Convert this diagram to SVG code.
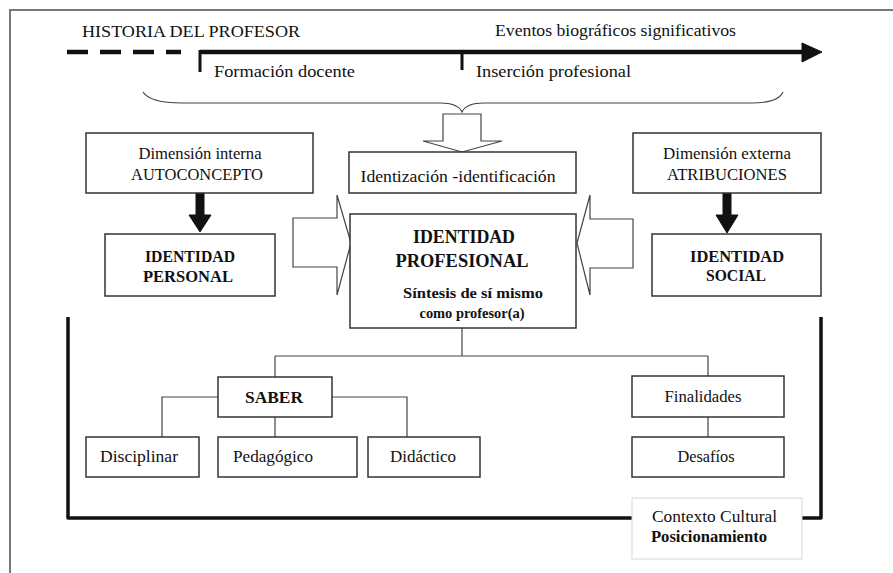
<svg xmlns="http://www.w3.org/2000/svg" width="893" height="573" viewBox="0 0 893 573" font-family="'Liberation Serif', 'Times New Roman', serif">
  <defs>
    <style>
      text { font-family: "Liberation Serif", "Times New Roman", serif; fill: #111111; }
      .t16 { font-size: 16px; }
      .b16 { font-size: 16px; font-weight: bold; }
      .b18 { font-size: 18px; font-weight: bold; }
      .b15 { font-size: 15px; font-weight: bold; }
      .mid { text-anchor: middle; }
      .box { fill: #ffffff; stroke: #333333; stroke-width: 1.5; }
      .soft { fill: #ffffff; stroke: #d8d8d8; stroke-width: 1; }
      .thin { fill: none; stroke: #444444; stroke-width: 1.2; }
      .hollow { fill: #ffffff; stroke: #444444; stroke-width: 1.2; stroke-linejoin: miter; }
      .solid { fill: #111111; stroke: #111111; stroke-width: 1; }
      .heavy { fill: none; stroke: #111111; stroke-width: 3.5; stroke-linejoin: round; }
    </style>
  </defs>

  <rect x="0" y="0" width="893" height="573" fill="#ffffff"/>

  <!-- page frame -->
  <g id="frame">
    <path d="M10,573 L10,10 L893,10" fill="none" stroke="#777777" stroke-width="2"/>
  </g>

  <!-- timeline -->
  <g id="timeline">
    <text class="t16" x="82" y="37" textLength="218" lengthAdjust="spacingAndGlyphs">HISTORIA DEL PROFESOR</text>
    <text class="t16" x="495" y="36" textLength="241" lengthAdjust="spacingAndGlyphs">Eventos biográficos significativos</text>
    <path d="M67,52 L181,52" stroke="#111111" stroke-width="4.5" stroke-dasharray="21,12" fill="none"/>
    <path d="M200,52 L806,52" stroke="#111111" stroke-width="4.5" fill="none"/>
    <path d="M802,43 L822,52 L802,62 Z" class="solid"/>
    <path d="M200,50 L200,72 M462,50 L462,70" stroke="#111111" stroke-width="3" fill="none"/>
    <text class="t16" x="214" y="77" textLength="141" lengthAdjust="spacingAndGlyphs">Formación docente</text>
    <text class="t16" x="476" y="77" textLength="155" lengthAdjust="spacingAndGlyphs">Inserción profesional</text>
  </g>

  <!-- connectors -->
  <g id="connectors">
    <!-- brace gathering the timeline -->
    <path class="thin" d="M143,92 Q150,103 182,103 L440,103 Q458,103 462,112 Q466,103 484,103 L752,103 Q778,103 783,92"/>
    <!-- hollow arrow down to identización -->
    <path class="hollow" d="M443,114 L481,114 L481,141 L502,141 L462,152 L423,141 L443,141 Z"/>
    <!-- hollow arrow from the left -->
    <path class="hollow" d="M293,218 L337,218 L337,195 L351,243 L337,295 L337,267 L293,267 Z"/>
    <!-- hollow arrow from the right -->
    <path class="hollow" d="M633,219 L590,219 L590,195 L577,243 L590,295 L590,268 L633,268 Z"/>
    <!-- solid arrows -->
    <path class="solid" d="M196,193 L204,193 L204,215 L211,215 L200,232 L189,215 L196,215 Z"/>
    <path class="solid" d="M723,193 L731,193 L731,215 L738,215 L727,233 L716,215 L723,215 Z"/>
    <!-- context bracket -->
    <path class="heavy" d="M68,317 L68,518 L821,518 L821,317"/>
    <!-- tree -->
    <path class="thin" d="M462,328 L462,356 M275,356 L708,356 M275,356 L275,377 M708,356 L708,377"/>
    <path class="thin" d="M218,397 L162,397 L162,437 M332,397 L407,397 L407,437 M275,417 L275,437"/>
    <path class="thin" d="M708,417 L708,437"/>
  </g>

  <g id="dim-interna">
    <rect class="box" x="86" y="133" width="227" height="60"/>
    <text class="t16 mid" x="200" y="159" textLength="123" lengthAdjust="spacingAndGlyphs">Dimensión interna</text>
    <text class="t16 mid" x="197" y="180" textLength="132" lengthAdjust="spacingAndGlyphs">AUTOCONCEPTO</text>
  </g>

  <g id="identizacion">
    <rect class="box" x="349" y="152" width="227" height="41"/>
    <text class="t16 mid" x="458" y="182" textLength="195" lengthAdjust="spacingAndGlyphs">Identización -identificación</text>
  </g>

  <g id="dim-externa">
    <rect class="box" x="633" y="133" width="188" height="60"/>
    <text class="t16 mid" x="727" y="159" textLength="128" lengthAdjust="spacingAndGlyphs">Dimensión externa</text>
    <text class="t16 mid" x="727" y="180" textLength="120" lengthAdjust="spacingAndGlyphs">ATRIBUCIONES</text>
  </g>

  <g id="identidad-personal">
    <rect class="box" x="105" y="234" width="170" height="62"/>
    <text class="b16 mid" x="190" y="262" textLength="90" lengthAdjust="spacingAndGlyphs">IDENTIDAD</text>
    <text class="b16 mid" x="188" y="282" textLength="90" lengthAdjust="spacingAndGlyphs">PERSONAL</text>
  </g>

  <g id="identidad-profesional">
    <rect class="box" x="350" y="214" width="226" height="114"/>
    <text class="b18 mid" x="464" y="243" textLength="102" lengthAdjust="spacingAndGlyphs">IDENTIDAD</text>
    <text class="b18 mid" x="462" y="267" textLength="133" lengthAdjust="spacingAndGlyphs">PROFESIONAL</text>
    <text class="b15 mid" x="473" y="298" textLength="140" lengthAdjust="spacingAndGlyphs">Síntesis de sí mismo</text>
    <text class="b15 mid" x="472" y="318" textLength="105" lengthAdjust="spacingAndGlyphs">como profesor(a)</text>
  </g>

  <g id="identidad-social">
    <rect class="box" x="652" y="234" width="169" height="62"/>
    <text class="b16 mid" x="737" y="262" textLength="94" lengthAdjust="spacingAndGlyphs">IDENTIDAD</text>
    <text class="b16 mid" x="736" y="281" textLength="60" lengthAdjust="spacingAndGlyphs">SOCIAL</text>
  </g>

  <g id="saber">
    <rect class="box" x="218" y="377" width="114" height="40"/>
    <text class="b16 mid" x="274" y="403" textLength="58" lengthAdjust="spacingAndGlyphs">SABER</text>
  </g>

  <g id="disciplinar">
    <rect class="box" x="86" y="437" width="113" height="40"/>
    <text class="t16 mid" x="139" y="462" textLength="78" lengthAdjust="spacingAndGlyphs">Disciplinar</text>
  </g>

  <g id="pedagogico">
    <rect class="box" x="218" y="437" width="139" height="40"/>
    <text class="t16 mid" x="273" y="462" textLength="80" lengthAdjust="spacingAndGlyphs">Pedagógico</text>
  </g>

  <g id="didactico">
    <rect class="box" x="368" y="437" width="112" height="40"/>
    <text class="t16 mid" x="423" y="462" textLength="66" lengthAdjust="spacingAndGlyphs">Didáctico</text>
  </g>

  <g id="finalidades">
    <rect class="box" x="632" y="376" width="152" height="41"/>
    <text class="t16 mid" x="703" y="402" textLength="77" lengthAdjust="spacingAndGlyphs">Finalidades</text>
  </g>

  <g id="desafios">
    <rect class="box" x="632" y="437" width="152" height="40"/>
    <text class="t16 mid" x="706" y="462" textLength="57" lengthAdjust="spacingAndGlyphs">Desafíos</text>
  </g>

  <g id="contexto">
    <rect class="soft" x="632" y="498" width="170" height="61"/>
    <text class="t16" x="652" y="522" textLength="125" lengthAdjust="spacingAndGlyphs">Contexto Cultural</text>
    <text class="b16" x="651" y="542" textLength="116" lengthAdjust="spacingAndGlyphs">Posicionamiento</text>
  </g>
</svg>
